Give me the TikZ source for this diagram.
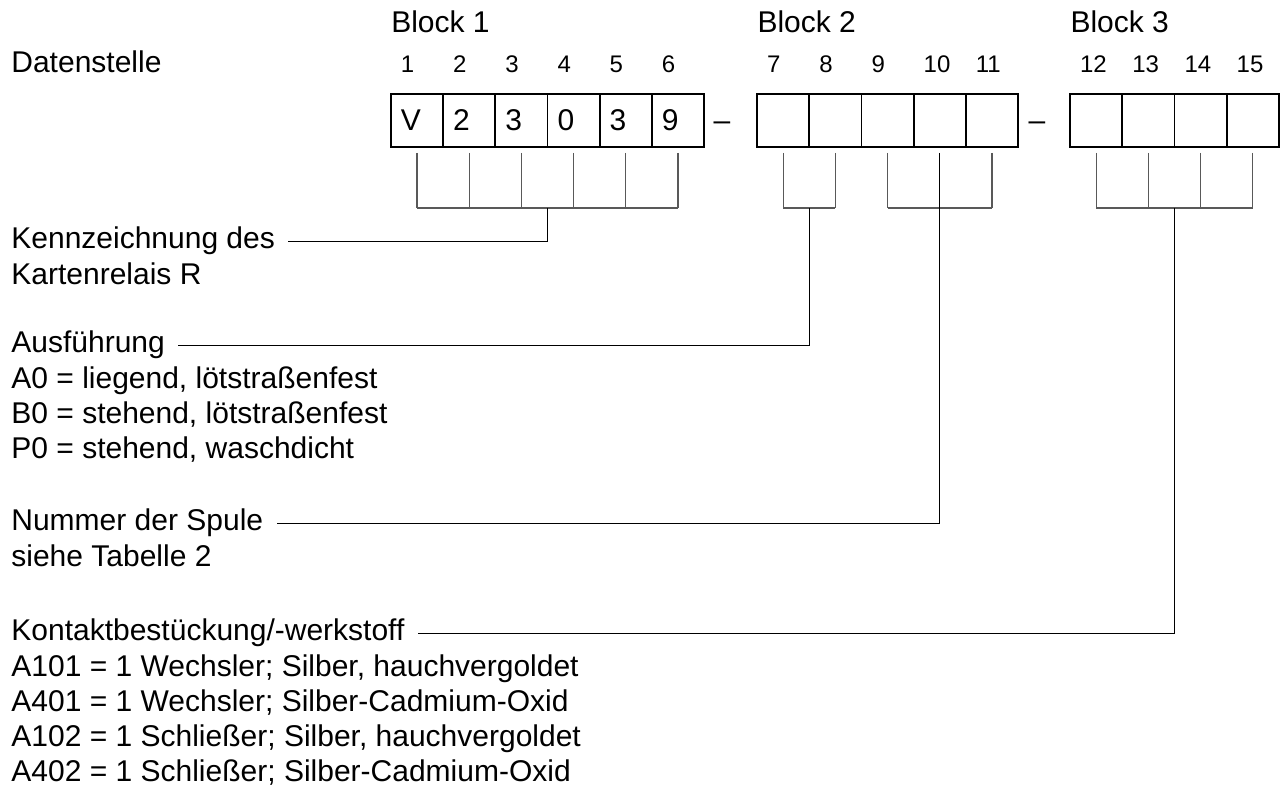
\documentclass[tikz,border=0pt]{standalone}
\usepackage{fontspec}
\setmainfont{Liberation Sans}
\usetikzlibrary{positioning}

\begin{document}
\begin{tikzpicture}[
    x=0.5pt, y=-0.5pt,
    cell/.style={draw, line width=0.9pt, text width=16.1pt, align=left, inner xsep=5pt, inner ysep=0pt, minimum height=26.5pt, outer sep=0pt, font=\fontsize{15pt}{18pt}\selectfont},
    num/.style={text width=16.1pt, align=left, inner xsep=5pt, inner ysep=0pt, font=\fontsize{12pt}{14pt}\selectfont},
    txt/.style={anchor=base west, inner xsep=6.5pt, inner ysep=0pt, font=\fontsize{15pt}{18pt}\selectfont},
    hyph/.style={anchor=base west, inner sep=0pt, font=\fontsize{15pt}{18pt}\selectfont},
    brk/.style={draw=black!65, line width=0.55pt},
    lead/.style={line width=0.6pt}
]
\useasboundingbox (0,0) rectangle (1282,795);

\node[cell] (c1) at (417,120.5) {V};
\node[cell, right=0pt of c1] (c2) {2};
\node[cell, right=0pt of c2] (c3) {3};
\node[cell, right=0pt of c3] (c4) {0};
\node[cell, right=0pt of c4] (c5) {3};
\node[cell, right=0pt of c5] (c6) {9};
\node[cell, right=26.5pt of c6] (c7) {};
\foreach \i [evaluate=\i as \j using int(\i-1)] in {8,...,11}
    \node[cell, right=0pt of c\j] (c\i) {};
\node[cell, right=26pt of c11] (c12) {};
\foreach \i [evaluate=\i as \j using int(\i-1)] in {13,14,15}
    \node[cell, right=0pt of c\j] (c\i) {};

\node[hyph] (h1) at ([xshift=4.5pt]c6.base east) {\textendash};
\node[hyph] (h2) at ([xshift=5pt]c11.east |- h1.base) {\textendash};

\foreach \i in {1,...,15}
    \node[num, above=10.5pt of c\i] (n\i) {\i};

\node[txt, inner xsep=0pt] (blk1) at ([yshift=30.5pt]c1.north west) {Block 1};
\node[txt, inner xsep=0pt] (blk2) at ([yshift=30.5pt]c7.north west) {Block 2};
\node[txt, inner xsep=0pt] (blk3) at ([yshift=30.5pt]c12.north west) {Block 3};
\node[txt] (dat) at (-2,73) {Datenstelle};

\node[txt] (kenn) at (-2,249) {Kennzeichnung des};
\node[txt] (kenn2) at (-2,285) {Kartenrelais R};

\node[txt] (ausf) at (-2,353) {Ausführung};
\foreach \t [count=\k] in {{A0 = liegend, lötstraßenfest}, {B0 = stehend, lötstraßenfest}, {P0 = stehend, waschdicht}}
    \node[txt] (ausf\k) at (-2,353+35.3*\k) {\t};

\node[txt] (spule) at (-2,531) {Nummer der Spule};
\node[txt] (spule2) at (-2,567) {siehe Tabelle 2};

\node[txt] (kont) at (-2,641) {Kontaktbestückung/-werkstoff};
\foreach \t [count=\k] in {{A101 = 1 Wechsler; Silber, hauchvergoldet}, {A401 = 1 Wechsler; Silber-Cadmium-Oxid}, {A102 = 1 Schließer; Silber, hauchvergoldet}, {A402 = 1 Schließer; Silber-Cadmium-Oxid}}
    \node[txt] (kont\k) at (-2,641+35.2*\k) {\t};

\foreach \i in {1,...,6}
    \draw[brk] ([yshift=-3pt]c\i.south) -- ++(0,-27.5pt);
\draw[brk] ([yshift=-30.5pt]c1.south) -- ([yshift=-30.5pt]c6.south);
\draw[lead] ([yshift=-30.5pt]c3.south east) |- (kenn.east);

\foreach \i in {7,8}
    \draw[brk] ([yshift=-3pt]c\i.south) -- ++(0,-27.5pt);
\draw[brk] ([yshift=-30.5pt]c7.south) -- ([yshift=-30.5pt]c8.south);
\draw[lead] ([yshift=-30.5pt]c7.south east) |- (ausf.east);

\foreach \i in {9,11}
    \draw[brk] ([yshift=-3pt]c\i.south) -- ++(0,-27.5pt);
\draw[brk] ([yshift=-30.5pt]c9.south) -- ([yshift=-30.5pt]c11.south);
\draw[lead] ([yshift=-3pt]c10.south) |- (spule.east);

\foreach \i in {12,...,15}
    \draw[brk] ([yshift=-3pt]c\i.south) -- ++(0,-27.5pt);
\draw[brk] ([yshift=-30.5pt]c12.south) -- ([yshift=-30.5pt]c15.south);
\draw[lead] ([yshift=-30.5pt]c13.south east) |- (kont.east);
\end{tikzpicture}
\end{document}
